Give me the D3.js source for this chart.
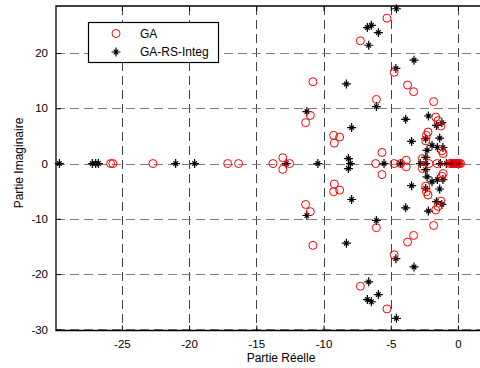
<!DOCTYPE html>
<html>
<head>
<meta charset="utf-8">
<script src="https://cdn.jsdelivr.net/npm/d3@7"></script>
<style>
  html, body { margin: 0; padding: 0; background: #fff; }
  svg { display: block; font-family: "Liberation Sans", Arial, sans-serif; }
</style>
</head>
<body>
<figure id="poles" style="margin:0"></figure>
<script>
// GA poles (red circles): real and imaginary parts
const gaRe = [-25.84, -25.67, -22.69, -17.13, -16.32, -13.76, -12.52, -6.12, -4.76, -4.26, -2.16, -1.56,
  -0.6, -0.45, -0.3, -0.2, -0.1, 0.0, 0.1, 0.2,
  -13.03, -13.03, -11.33, -11.33, -10.98, -10.98, -10.79, -10.79,
  -9.2, -9.2, -9.25, -9.25, -8.8, -8.8, -7.26, -7.26, -6.07, -6.07, -5.65, -5.65,
  -5.28, -5.28, -4.75, -4.75, -3.85, -3.85, -3.75, -3.75, -3.3, -3.3, -2.65, -2.65,
  -2.4, -2.4, -2.35, -2.35, -2.23, -2.23, -1.81, -1.81, -1.66, -1.66, -1.49, -1.49,
  -1.27, -1.27, -1.2, -1.2, -1.1, -1.1];
const gaIm = [0, 0, 0, 0, 0, 0, 0, 0, 0, 0, 0, 0,
  0, 0, 0, 0, 0, 0, 0, 0,
  1.05, -1.05, 7.4, -7.4, 8.7, -8.7, 14.8, -14.8,
  3.7, -3.7, 5.1, -5.1, 4.8, -4.8, 22.2, -22.2, 11.6, -11.6, 2.0, -2.0,
  26.3, -26.3, 16.5, -16.5, 0.6, -0.6, 14.2, -14.2, 13.0, -13.0, 0.9, -0.9,
  4.1, -4.1, 5.1, -5.1, 5.7, -5.7, 11.2, -11.2, 8.4, -8.4, 7.75, -7.75,
  6.8, -6.8, 2.3, -2.3, 1.8, -1.8];

// GA-RS-Integ poles (black stars)
const rsRe = [-29.65, -27.2, -26.95, -26.75, -21.0, -19.59, -12.77, -10.42, -8.0, -5.5, -4.26, -2.8, -2.4,
  -1.31, -0.86, -0.55, -0.35, -0.15, 0.05,
  -11.24, -11.24, -8.3, -8.3, -8.15, -8.15, -7.91, -7.91, -6.74, -6.74, -6.44, -6.44,
  -6.64, -6.64, -6.07, -6.07, -5.92, -5.92, -4.62, -4.62, -4.58, -4.58, -3.89, -3.89,
  -3.45, -3.45, -3.27, -3.27, -2.4, -2.4, -2.3, -2.3, -2.4, -2.4, -2.2, -2.2,
  -1.93, -1.93, -1.6, -1.6, -1.53, -1.53, -1.36, -1.36, -1.2, -1.2, -1.12, -1.12];
const rsIm = [0, 0, 0, 0, 0, 0, 0, 0, 0, 0, 0, 0, 0,
  0, 0, 0, 0, 0, 0,
  9.4, -9.4, 14.4, -14.4, 0.9, -0.9, 6.5, -6.5, 24.6, -24.6, 25.0, -25.0,
  21.4, -21.4, 10.3, -10.3, 23.7, -23.7, 17.2, -17.2, 28.0, -28.0, 8.0, -8.0,
  4.0, -4.0, 18.7, -18.7, 1.1, -1.1, 2.4, -2.4, 4.5, -4.5, 8.6, -8.6,
  3.3, -3.3, 6.9, -6.9, 2.9, -2.9, 4.6, -4.6, 7.4, -7.4, 2.9, -2.9];

const xTicks = [-25, -20, -15, -10, -5, 0];
const yTicks = [-30, -20, -10, 0, 10, 20];
const seriesNames = ["GA", "GA-RS-Integ"];

const W = 480, H = 368;
const plotLeft = 56, plotTop = 6, plotRight = 481.5, plotBottom = 330.5;

const svg = d3.select("figure#poles")
  .append("svg")
  .attr("width", W)
  .attr("height", H);

const x = d3.scaleLinear().domain([-29.9, 1.75]).range([plotLeft, plotRight]);
const y = d3.scaleLinear().domain([-30.2, 28.5]).range([plotBottom, plotTop]);

// grid lines
svg.append("g")
  .selectAll("line")
  .data(xTicks)
  .enter()
  .append("line")
  .attr("x1", d => Math.round(x(d)) + 0.5)
  .attr("x2", d => Math.round(x(d)) + 0.5)
  .attr("y1", plotTop)
  .attr("y2", plotBottom)
  .attr("stroke", "#444")
  .attr("stroke-dasharray", "9,5");

svg.append("g")
  .selectAll("line")
  .data(yTicks)
  .enter()
  .append("line")
  .attr("x1", plotLeft)
  .attr("x2", plotRight)
  .attr("y1", d => Math.round(y(d)) + 0.5)
  .attr("y2", d => Math.round(y(d)) + 0.5)
  .attr("stroke", "#808080")
  .attr("stroke-dasharray", "9,5");

// axes
const plain = d => String(d);
const xAxis = svg.append("g")
  .attr("transform", "translate(0," + plotBottom + ")")
  .call(d3.axisBottom(x).tickValues(xTicks).tickFormat(plain).tickSizeInner(-5).tickSizeOuter(0).tickPadding(9));
const xTop = svg.append("g")
  .attr("transform", "translate(0," + plotTop + ")")
  .call(d3.axisTop(x).tickValues(xTicks).tickSizeInner(-5).tickSizeOuter(0).tickFormat(""));
const yAxis = svg.append("g")
  .attr("transform", "translate(" + plotLeft + ",0)")
  .call(d3.axisLeft(y).tickValues(yTicks).tickFormat(plain).tickSizeInner(-5).tickSizeOuter(0).tickPadding(8));

[xAxis, xTop, yAxis].forEach(g => {
  g.select(".domain").remove();
  g.selectAll("line").attr("stroke", "#000");
  g.selectAll("text")
    .attr("fill", "#000")
    .style("font-size", "11.5px")
    .style("font-family", "'Liberation Sans', Arial, sans-serif");
});

// axis box lines (left, bottom, top)
svg.append("path")
  .attr("d", `M${plotRight},${plotTop}H${plotLeft}V${plotBottom}H${plotRight}`)
  .attr("fill", "none")
  .attr("stroke", "#000")
  .attr("stroke-width", 1.3);

// marks
const starPath = "M-4.5,0H4.5M0,-4.5V4.5M-2.3,-2.3L2.3,2.3M-2.3,2.3L2.3,-2.3";

svg.append("g")
  .selectAll("path")
  .data(d3.range(rsRe.length))
  .enter()
  .append("path")
  .attr("transform", i => "translate(" + x(rsRe[i]) + "," + y(rsIm[i]) + ")")
  .attr("d", starPath)
  .attr("stroke", "#000")
  .attr("stroke-width", 1.2)
  .attr("fill", "none");

svg.append("g")
  .selectAll("circle")
  .data(d3.range(gaRe.length))
  .enter()
  .append("circle")
  .attr("cx", i => x(gaRe[i]))
  .attr("cy", i => y(gaIm[i]))
  .attr("r", 4)
  .attr("fill", "none")
  .attr("stroke", "#ff0000")
  .attr("stroke-width", 1);

// legend
const legend = svg.append("g");
legend.append("rect")
  .attr("x", 88.5).attr("y", 22.5)
  .attr("width", 130).attr("height", 40)
  .attr("fill", "#fff")
  .attr("stroke", "#000")
  .attr("stroke-width", 1.2);
legend.append("circle")
  .attr("cx", 116).attr("cy", 33.5).attr("r", 4)
  .attr("fill", "none").attr("stroke", "#ff0000");
legend.append("path")
  .attr("transform", "translate(116,52)")
  .attr("d", starPath)
  .attr("stroke", "#000").attr("stroke-width", 1.2);
legend.selectAll("text")
  .data(seriesNames)
  .enter()
  .append("text")
  .attr("x", 140)
  .attr("y", (d, i) => 37.5 + i * 18.5)
  .style("font-size", "12px")
  .text(d => d);

// axis titles
svg.append("text")
  .attr("x", 281).attr("y", 362)
  .attr("text-anchor", "middle")
  .style("font-size", "12px")
  .text("Partie Réelle");
svg.append("text")
  .attr("transform", "translate(23,163) rotate(-90)")
  .attr("text-anchor", "middle")
  .style("font-size", "12px")
  .text("Partie Imaginaire");
</script>
</body>
</html>
